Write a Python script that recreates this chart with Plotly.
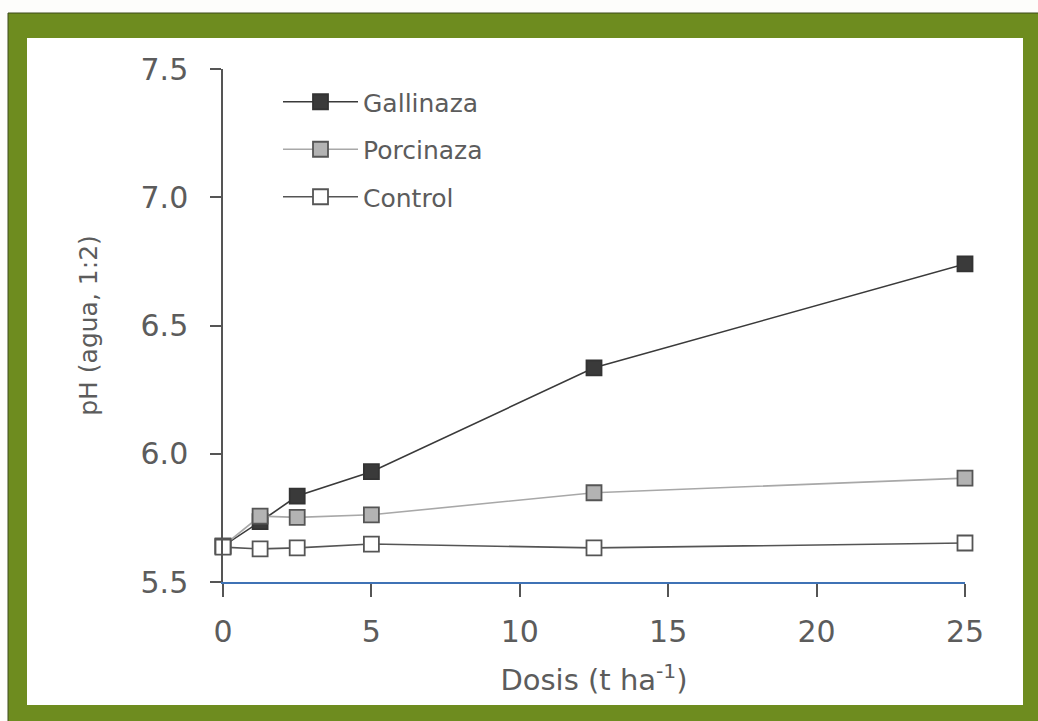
import plotly.graph_objects as go

dosis = [0, 1.25, 2.5, 5, 12.5, 25]
gallinaza = [5.64, 5.735, 5.835, 5.93, 6.335, 6.74]
porcinaza = [5.64, 5.757, 5.752, 5.762, 5.848, 5.905]
control = [5.636, 5.629, 5.633, 5.648, 5.633, 5.652]
x_ticks = [0, 5, 10, 15, 20, 25]
y_ticks = [5.5, 6.0, 6.5, 7.0, 7.5]
y_tick_text = ["5.5", "6.0", "6.5", "7.0", "7.5"]

W, H = 1038, 721
L, R, T, B = 223, 73, 69, 139
pw, ph = W - L - R, H - T - B

def px(x):
    return (x - L) / pw

def py(y):
    return (H - B - y) / ph

txt = "#5c5c5c"
font = "DejaVu Sans"

fig = go.Figure()
series = [
    ("Gallinaza", gallinaza, "#3a3a3a", "#3a3a3a", "#333333"),
    ("Porcinaza", porcinaza, "#a8a8a8", "#b3b3b3", "#555555"),
    ("Control", control, "#555555", "#ffffff", "#555555"),
]
for name, vals, lc, fc, oc in series:
    fig.add_trace(go.Scatter(
        x=dosis, y=vals, name=name, mode="lines+markers",
        legendgroup=name,
        line=dict(color=lc, width=1.6),
        marker=dict(symbol="square", size=15, color=fc,
                    line=dict(color=oc, width=1.8)),
        cliponaxis=False,
    ))

# green frame
fig.add_shape(type="rect", xref="paper", yref="paper",
              x0=px(8), x1=px(1045), y0=py(730), y1=py(13),
              fillcolor="#6e8c1f", line=dict(color="#3d4a1a", width=1), layer="below")
fig.add_shape(type="rect", xref="paper", yref="paper",
              x0=px(27), x1=px(1023), y0=py(705), y1=py(38),
              fillcolor="#ffffff", line=dict(width=0), layer="below")

fig.update_layout(
    width=W, height=H,
    margin=dict(l=L, r=R, t=T, b=B),
    paper_bgcolor="#fdfdfb",
    plot_bgcolor="rgba(0,0,0,0)",
    font=dict(family=font, color=txt),
    showlegend=True,
    legend=dict(x=px(278), y=py(79), xanchor="left", yanchor="top",
                bgcolor="rgba(0,0,0,0)", font=dict(size=25, color=txt, family=font),
                itemwidth=75, tracegroupgap=12),
    xaxis=dict(range=[0, 25], tickvals=x_ticks, ticks="outside", ticklen=13,
               tickcolor="#555555", tickwidth=1.5,
               showline=True, linecolor="#3f72b5", linewidth=2,
               showgrid=False, zeroline=False,
               tickfont=dict(size=30, color=txt), ticklabelstandoff=9,
               title=dict(text="Dosis (t ha<sup>-1</sup>)", font=dict(size=29, color=txt), standoff=22)),
    yaxis=dict(range=[5.5, 7.5], tickvals=y_ticks, ticktext=y_tick_text,
               ticks="outside", ticklen=11, tickcolor="#555555", tickwidth=1.5,
               showline=True, linecolor="#555555", linewidth=1.5,
               showgrid=False, zeroline=False,
               tickfont=dict(size=30, color=txt), ticklabelstandoff=16,
               title=dict(text="pH (agua, 1:2)", font=dict(size=25, color=txt), standoff=36)),
)

fig.write_html("out.html", config={"displayModeBar": False},
               post_script="document.body.style.margin='0';document.body.style.overflow='hidden';")
